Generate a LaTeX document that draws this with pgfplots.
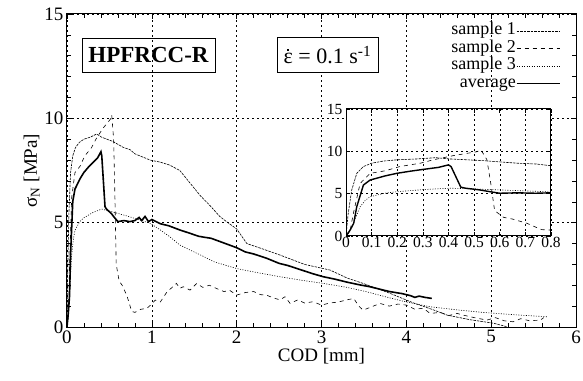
\documentclass[border=0pt]{standalone}
\usepackage{fontspec}
\setmainfont{Liberation Serif}
\usepackage{pgfplots}
\usepackage{pgfplotstable}
\pgfplotsset{compat=1.18}
\newcommand{\lf}{\fontsize{19}{19}\selectfont}
\newcommand{\lgf}{\fontsize{18}{18}\selectfont}

\pgfplotstableread{
x y
0 0
0.008 2.5
0.022 5.4
0.042 7.4
0.068 8.2
0.10 8.6
0.146 8.85
0.20 9.0
0.276 9.1
0.35 9.25
0.406 9.1
0.536 8.9
0.667 8.6
0.743 8.5
0.80 8.3
0.98 8.0
1.10 7.9
1.21 7.76
1.33 7.5
1.45 6.9
1.57 6.3
1.69 5.8
1.80 5.3
1.88 5.05
2.00 4.7
2.12 4.0
2.30 3.75
2.51 3.45
2.80 3.0
3.10 2.73
3.30 2.35
3.49 2.09
3.81 1.61
4.08 1.16
4.30 0.85
4.48 0.57
4.75 0.35
5.03 0.18
5.18 0.02
}\sone

\pgfplotstableread{
x y
0 0
0.015 0.5
0.029 2.7
0.055 6.2
0.094 7.4
0.153 7.7
0.21 8.2
0.29 8.6
0.341 9.0
0.42 9.5
0.51 9.95
0.527 10.16
0.55 9.0
0.565 6.2
0.58 3.0
0.615 2.2
0.65 2.0
0.706 1.5
0.763 0.75
0.80 0.7
0.87 0.85
0.94 0.89
1.00 1.1
1.04 1.29
1.10 1.2
1.18 1.69
1.24 1.9
1.29 2.09
1.33 1.85
1.37 1.93
1.45 1.77
1.53 2.09
1.60 1.9
1.68 2.0
1.76 1.85
1.85 1.7
1.92 1.75
2.00 1.53
2.10 1.65
2.20 1.7
2.28 1.55
2.35 1.53
2.43 1.4
2.51 1.3
2.57 1.45
2.63 1.13
2.72 1.3
2.80 1.15
2.90 1.21
3.00 1.05
3.10 1.15
3.20 1.2
3.30 1.3
3.38 1.37
3.44 1.0
3.49 0.81
3.58 0.95
3.69 1.13
3.80 1.0
3.90 1.1
4.00 1.05
4.10 0.85
4.20 0.9
4.28 0.65
4.40 0.7
4.50 0.55
4.60 0.65
4.67 0.57
4.80 0.45
4.95 0.33
5.05 0.45
5.15 0.3
5.26 0.25
5.35 0.4
5.45 0.3
5.58 0.33
5.62 0.45
}\stwo

\pgfplotstableread{
x y
0 0
0.015 0.5
0.029 1.5
0.055 3.46
0.075 4.2
0.094 4.64
0.15 5.05
0.198 5.23
0.31 5.5
0.41 5.65
0.55 5.5
0.74 5.28
0.98 4.97
1.10 4.65
1.21 4.33
1.33 3.93
1.45 3.69
1.60 3.4
1.73 3.13
2.00 2.8
2.25 2.6
2.51 2.41
2.75 2.25
3.02 2.09
3.30 1.9
3.53 1.69
3.80 1.4
4.00 1.2
4.28 0.97
4.60 0.82
4.90 0.7
5.30 0.58
5.66 0.49
}\sthree

\pgfplotstableread{
x y
0 0
0.016 0.7
0.03 1.5
0.042 3.46
0.068 6.02
0.094 6.61
0.153 7.1
0.198 7.4
0.25 7.65
0.302 7.87
0.36 8.1
0.40 8.4
0.41 8.2
0.448 5.77
0.465 5.65
0.52 5.45
0.5625 5.23
0.60 5.05
0.67 5.1
0.74 5.05
0.80 5.1
0.85 5.25
0.88 5.1
0.92 5.3
0.96 5.05
1.00 5.15
1.05 5.05
1.10 4.95
1.20 4.85
1.33 4.65
1.45 4.49
1.55 4.35
1.62 4.3
1.70 4.25
1.80 4.1
1.90 3.95
2.00 3.8
2.10 3.6
2.20 3.5
2.35 3.3
2.50 3.05
2.60 2.95
2.75 2.75
2.90 2.55
3.02 2.41
3.15 2.3
3.30 2.15
3.45 2.02
3.57 1.93
3.70 1.8
3.80 1.7
3.95 1.6
4.05 1.5
4.10 1.42
4.15 1.48
4.22 1.42
4.30 1.37
}\avg

\begin{document}
\begin{tikzpicture}
\begin{axis}[
  at={(0pt,0pt)}, anchor=south west,
  scale only axis, width=509pt, height=313pt,
  xmin=0, xmax=6, ymin=0, ymax=15,
  xtick={0,1,...,6}, ytick={0,5,10,15},
  minor x tick num=4, minor y tick num=4,
  xtick pos=both, ytick pos=both,
  xticklabel pos=left, yticklabel pos=left,
  tick align=inside,
  major tick length=5pt, minor tick length=4pt,
  tick style={black, line width=0.6pt},
  axis line style={line width=1pt},
  grid=major,
  major grid style={black, line width=0.5pt, dash pattern=on 2pt off 3pt},
  /pgf/number format/assume math mode=true,
  tick label style={font=\lf},
  xlabel={COD [mm]}, ylabel={σ\textsubscript{N} [MPa]},
  label style={font=\lf},
  xlabel style={yshift=2pt},
  ylabel style={yshift=-2pt},
  legend plot pos=right,
  legend cell align=right,
  legend image code/.code={\draw[#1] (9pt,0pt) -- (52pt,0pt);},
  legend style={at={(0.97,0.97)}, anchor=north east, draw=none, fill=none,
    row sep=2.5pt, inner sep=0pt,
    nodes={inner sep=0pt, text height=11pt, text depth=4pt}},
]
\addplot[black, line width=0.6pt, dash pattern=on 2.5pt off 1pt] table {\sone};
\addlegendentry{\lgf sample 1}
\addplot[black, line width=0.6pt, dash pattern=on 4pt off 4pt] table {\stwo};
\addlegendentry{\lgf sample 2}
\addplot[black, line width=0.6pt, dash pattern=on 1pt off 1.5pt] table {\sthree};
\addlegendentry{\lgf sample 3}
\addplot[black, line width=1.6pt] table {\avg};
\addlegendentry{\lgf average}
\node[draw, line width=0.8pt, minimum width=133pt, minimum height=34pt, inner sep=0pt,
  font=\fontsize{23}{23}\selectfont\bfseries] at (axis cs:0.961,13.03) {HPFRCC-R};
\node[draw, line width=0.8pt, fill=white, minimum width=101pt, minimum height=35pt, inner sep=0pt,
  font=\fontsize{22}{22}\selectfont] at (axis cs:3.07,13.03)
  {\makebox[0pt][l]{\hspace{0.17em}\raisebox{0.6em}{\rule{1.8pt}{1.8pt}}}ε = 0.1 s\textsuperscript{-1}};
\end{axis}
\begin{axis}[
  at={(279pt,91pt)}, anchor=south west,
  scale only axis, width=205pt, height=127pt,
  xmin=0, xmax=0.8, ymin=0, ymax=15,
  xtick={0,0.1,...,0.8}, ytick={0,5,10,15},
  xtick pos=both, ytick pos=both,
  xticklabel pos=left, yticklabel pos=left,
  tick align=inside,
  major tick length=4pt,
  tick style={black, line width=0.6pt},
  axis line style={line width=1pt},
  axis background/.style={fill=white},
  grid=major,
  major grid style={black, line width=0.5pt, dash pattern=on 2pt off 3pt},
  /pgf/number format/assume math mode=true,
  tick label style={font=\fontsize{15.5}{15.5}\selectfont},
  xticklabel style={/pgf/number format/fixed, yshift=2pt},
]
\addplot[black, line width=0.6pt, dash pattern=on 2.5pt off 1pt] table {\sone};
\addplot[black, line width=0.6pt, dash pattern=on 4pt off 4pt] table {\stwo};
\addplot[black, line width=0.6pt, dash pattern=on 1pt off 1.5pt] table {\sthree};
\addplot[black, line width=1.4pt] table {\avg};
\end{axis}
\pgfresetboundingbox
\path[use as bounding box] (-67pt,-53pt) rectangle (516pt,327pt);
\end{tikzpicture}
\end{document}
